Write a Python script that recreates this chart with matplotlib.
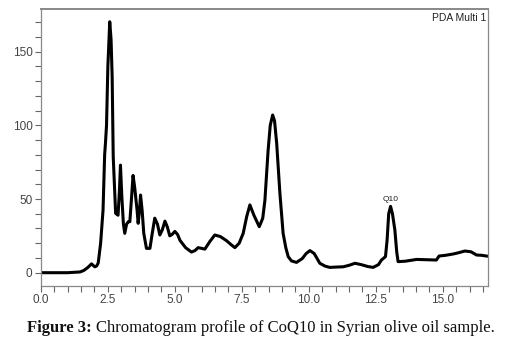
import matplotlib
matplotlib.use("Agg")
import matplotlib.pyplot as plt
from matplotlib.ticker import MultipleLocator

# retention time (min) and detector signal
time = [0.0, 1.0, 1.46, 1.6, 1.75, 1.89, 1.95, 2.01, 2.08, 2.14, 2.23, 2.32, 2.38, 2.41,
        2.45, 2.5, 2.57, 2.62, 2.66, 2.7, 2.79, 2.88, 2.93, 2.97, 3.02, 3.08, 3.13, 3.2,
        3.26, 3.32, 3.38, 3.44, 3.5, 3.59, 3.63, 3.68, 3.72, 3.78, 3.84, 3.94, 4.07,
        4.15, 4.25, 4.35, 4.44, 4.53, 4.63, 4.72, 4.81, 4.9, 5.0, 5.1, 5.19, 5.4,
        5.62, 5.75, 5.87, 6.0, 6.12, 6.3, 6.49, 6.7, 6.93, 7.1, 7.24, 7.4, 7.55, 7.68,
        7.8, 7.95, 8.15, 8.28, 8.36, 8.48, 8.56, 8.65, 8.72, 8.8, 8.92, 9.04, 9.14,
        9.23, 9.35, 9.54, 9.75, 9.9, 10.04, 10.2, 10.41, 10.6, 10.78, 11.0, 11.28,
        11.5, 11.72, 11.95, 12.2, 12.4, 12.6, 12.71, 12.86, 12.92, 12.98, 13.05, 13.12,
        13.21, 13.28, 13.33, 13.6, 14.02, 14.4, 14.76, 14.86, 15.1, 15.39, 15.6, 15.82,
        16.05, 16.26, 16.45, 16.63]
signal = [0.0, 0.0, 0.5, 1.5, 3.5, 6.0, 5.0, 4.0, 4.5, 6.6, 20.0, 42.5, 80.0, 87.8,
          100.0, 140.0, 170.3, 158.0, 133.0, 78.7, 40.3, 39.0, 55.0, 73.0, 52.0, 33.0,
          26.7, 33.0, 34.6, 34.6, 50.0, 66.0, 58.0, 42.5, 33.5, 42.0, 52.7, 42.0, 26.7,
          16.5, 16.5, 26.0, 37.0, 33.0, 25.6, 29.0, 35.0, 31.0, 25.0, 26.0, 28.0, 26.0,
          22.0, 17.0, 14.0, 15.0, 17.0, 16.5, 16.0, 21.0, 25.6, 24.5, 21.7, 19.0, 17.0,
          20.0, 26.7, 38.0, 46.0, 39.0, 31.2, 37.0, 49.0, 83.0, 100.0, 107.0, 103.0,
          87.8, 53.9, 26.7, 17.0, 10.9, 8.0, 7.0, 9.5, 13.0, 15.0, 13.0, 6.4, 4.5, 3.6,
          3.8, 4.0, 5.0, 6.4, 5.5, 4.2, 3.6, 5.5, 8.6, 10.9, 22.0, 40.0, 45.0, 40.0,
          29.0, 14.0, 7.5, 7.8, 9.0, 8.8, 8.6, 11.3, 11.8, 12.7, 13.6, 14.7, 14.2, 12.0,
          11.8, 11.3]

x_major = [0.0, 2.5, 5.0, 7.5, 10.0, 12.5, 15.0]
x_labels = ["0.0", "2.5", "5.0", "7.5", "10.0", "12.5", "15.0"]
y_major = [0, 50, 100, 150]
y_labels = ["0", "50", "100", "150"]

fig = plt.figure(figsize=(5.24, 3.57), dpi=100)
ax = fig.add_axes([0.078, 0.199, 0.853, 0.776])

ax.plot(time, signal, color="black", lw=2.2, solid_joinstyle="round")
ax.set_xlim(0, 16.68)
ax.set_ylim(-9, 179)

tickfont = dict(family=["Liberation Sans Narrow", "Liberation Sans"], size=8.5, color="#444444")
ax.set_xticks(x_major)
ax.set_xticklabels(x_labels, **tickfont)
ax.set_yticks(y_major)
ax.set_yticklabels(y_labels, **tickfont)
ax.xaxis.set_minor_locator(MultipleLocator(0.5))
ax.yaxis.set_minor_locator(MultipleLocator(10))
ax.tick_params(which="both", direction="out", length=4, width=0.8, color="#666666", pad=2)

for s in ax.spines.values():
    s.set_color("#888888")
    s.set_linewidth(0.9)
ax.spines["top"].set_linewidth(1.4)

ax.text(16.62, 176, "PDA Multi 1", ha="right", va="top",
        family=["Liberation Sans Narrow", "Liberation Sans"], size=7.5, color="#222222")
ax.text(13.05, 47, "Q10", ha="center", va="bottom",
        family=["Liberation Sans Narrow", "Liberation Sans"], size=6, color="#222222")

cap_y = 1 - 332 / 357
t1 = fig.text(27 / 524, cap_y, "Figure 3:", family="Liberation Serif",
              weight="bold", size=12, color="#111111")
fig.canvas.draw()
bb = t1.get_window_extent()
fig.text(bb.x1 / fig.bbox.width + 0.008, cap_y,
         "Chromatogram profile of CoQ10 in Syrian olive oil sample.",
         family="Liberation Serif", size=12, color="#111111")

fig.savefig("out.png", dpi=100)
